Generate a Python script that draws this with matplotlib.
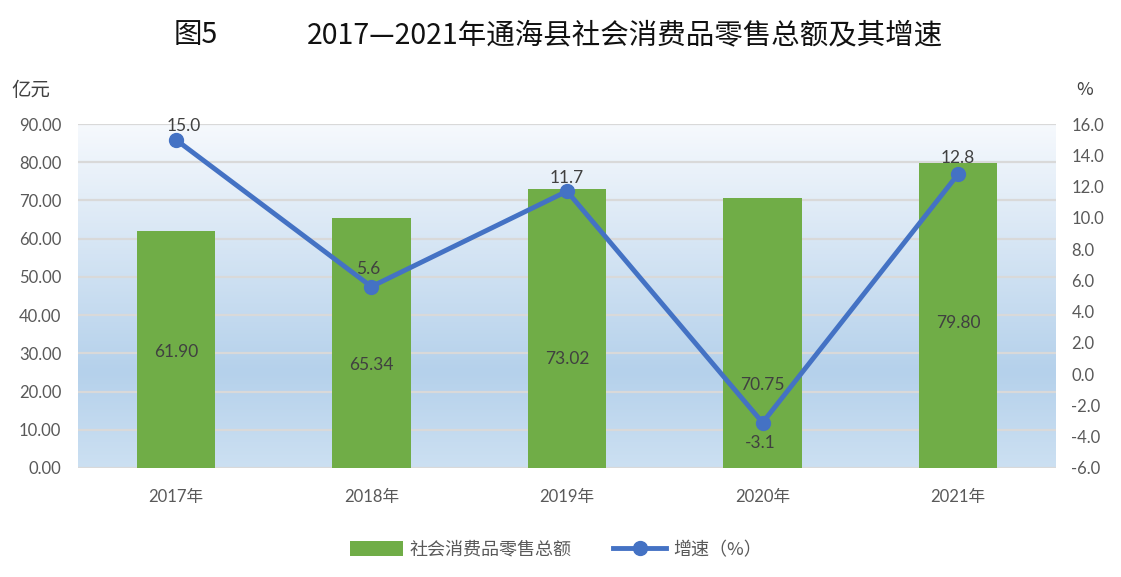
import numpy as np
import matplotlib
matplotlib.use("Agg")
import matplotlib.pyplot as plt
from matplotlib.colors import LinearSegmentedColormap
from matplotlib.lines import Line2D
from matplotlib.patches import Patch

# ---------------- data ----------------
years = ["2017年", "2018年", "2019年", "2020年", "2021年"]
sales = [61.90, 65.34, 73.02, 70.75, 79.80]          # 亿元
growth = [15.0, 5.6, 11.7, -3.1, 12.8]               # %
left_ticks = [0, 10, 20, 30, 40, 50, 60, 70, 80, 90]
right_ticks = [-6, -4, -2, 0, 2, 4, 6, 8, 10, 12, 14, 16]

# layout (label placement, not data)
bar_label_y = [30.3, 27.0, 28.5, 21.8, 37.9]
line_label_off = [(8, 14), (-3, 18), (0, 13), (-2, -20), (0, 16)]

plt.rcParams['font.family'] = ['Lato', 'Noto Sans CJK SC', 'DejaVu Sans']
CJK = ['Noto Sans CJK SC', 'DejaVu Sans']

W, H = 1121, 577
fig = plt.figure(figsize=(W / 100, H / 100), dpi=100)
fig.patch.set_facecolor('white')

x0, x1, ytop, ybot = 78, 1056, 124, 468
ax = fig.add_axes([x0 / W, (H - ybot) / H, (x1 - x0) / W, (ybot - ytop) / H])
ax2 = ax.twinx()

# gradient background
cmap = LinearSegmentedColormap.from_list(
    'bg', [(0.0, '#f6f9fd'), (0.72, '#b5d1eb'), (1.0, '#cce0f2')])
grad = np.linspace(0, 1, 256).reshape(-1, 1)
ax.imshow(grad, aspect='auto', cmap=cmap, extent=[0, 1, 0, 1],
          transform=ax.transAxes, zorder=0, interpolation='bicubic')
ax.patch.set_visible(False)
ax2.patch.set_visible(False)

xpos = np.arange(len(years))
ax.set_xlim(-0.5, len(years) - 0.5)
ax.set_ylim(0, 90)
ax2.set_ylim(-6, 16)

for t in left_ticks:
    ax.axhline(t, color='#d9d9d9', lw=1.6, zorder=1)

ax.bar(xpos, sales, width=0.4, color='#70ad47', zorder=2)
for xi, v, ly in zip(xpos, sales, bar_label_y):
    ax.text(xi, ly, f"{v:.2f}", ha='center', va='center', fontsize=12.5,
            color='#404040', zorder=3)

ax2.plot(xpos, growth, color='#4472c4', lw=3.5, marker='o', markersize=10,
         zorder=4, solid_capstyle='round')
for xi, v, (dx, dy) in zip(xpos, growth, line_label_off):
    ax2.annotate(f"{v:.1f}", (xi, v), xytext=(dx * 0.72, dy * 0.72),
                 textcoords='offset points', ha='center', va='center',
                 fontsize=12.5, color='#404040', zorder=5)

for a in (ax, ax2):
    for s in a.spines.values():
        s.set_visible(False)
    a.tick_params(length=0, colors='#595959', labelsize=12)

ax.set_xticks(xpos)
ax.set_xticklabels(years, fontsize=12, color='#595959')
ax.tick_params(axis='x', pad=15)
ax.set_yticks(left_ticks)
ax.set_yticklabels([f"{t:.2f}" for t in left_ticks])
ax.tick_params(axis='y', pad=12)
ax2.set_yticks(right_ticks)
ax2.set_yticklabels([f"{t:.1f}" for t in right_ticks])
ax2.tick_params(axis='y', pad=11)

# titles and unit labels
fig.text(196 / W, 1 - 35 / H, "图5", ha='center', va='center', fontsize=20.5,
         color='#111111', family=CJK, fontweight='light')
fig.text(625 / W, 1 - 35 / H, "2017—2021年通海县社会消费品零售总额及其增速",
         ha='center', va='center', fontsize=20.5, color='#111111', family=CJK,
         fontweight='light')
fig.text(31 / W, 1 - 90 / H, "亿元", ha='center', va='center', fontsize=14,
         color='#404040', family=CJK)
fig.text(1085 / W, 1 - 90 / H, "%", ha='center', va='center', fontsize=13,
         color='#404040', family=CJK)

# legend
handles = [Patch(facecolor='#70ad47', edgecolor='none'),
           Line2D([0], [0], color='#4472c4', lw=3.5, marker='o', markersize=10)]
leg = fig.legend(handles, ["社会消费品零售总额", "增速（%）"], loc='center',
                 bbox_to_anchor=(556 / W, 1 - 550 / H), ncol=2, frameon=False,
                 prop={'family': CJK, 'size': 13}, handlelength=2.9,
                 handleheight=0.9, handletextpad=0.4, columnspacing=2.3)
for t in leg.get_texts():
    t.set_color('#595959')

fig.savefig("out.png", dpi=100, facecolor='white')
